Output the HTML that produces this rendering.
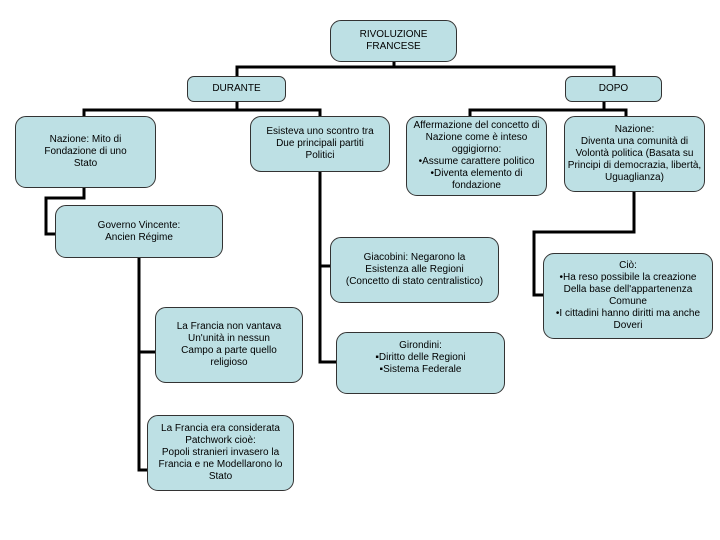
<!DOCTYPE html>
<html><head><meta charset="utf-8"><style>
body{margin:0;width:720px;height:540px;background:#fff;position:relative;overflow:hidden;font-family:"Liberation Sans",Arial,sans-serif;}
.b{position:absolute;box-sizing:border-box;background:#bde0e4;border:1px solid #333;border-radius:11px;display:flex;align-items:center;justify-content:center;text-align:center;font-size:10px;line-height:12px;color:#000;}
svg{position:absolute;left:0;top:0}
</style></head><body>
<svg width="720" height="540"><g stroke="#000" stroke-width="3" fill="none">
<polyline points="394,62 394,67 237,67 237,78"/>
<polyline points="394,67 614,67 614,78"/>
<polyline points="237,101 237,110 84,110 84,118"/>
<polyline points="237,110 320,110 320,118"/>
<polyline points="604,101 604,110 470,110 470,118"/>
<polyline points="604,110 626,110 626,118"/>
<polyline points="84,188 84,198 46,198 46,234 57,234"/>
<polyline points="139,258 139,470 150,470"/>
<polyline points="139,352 157,352"/>
<polyline points="320,172 320,362 338,362"/>
<polyline points="320,266 332,266"/>
<polyline points="634,192 634,232 534,232 534,295 545,295"/>
</g></svg>
<div class="b" style="left:330px;top:20px;width:127px;height:42px">RIVOLUZIONE<br>FRANCESE</div>
<div class="b" style="left:187px;top:76px;width:99px;height:26px;border-radius:7px">DURANTE</div>
<div class="b" style="left:565px;top:76px;width:97px;height:26px;border-radius:7px">DOPO</div>
<div class="b" style="left:15px;top:116px;width:141px;height:72px">Nazione: Mito di<br>Fondazione di uno<br>Stato</div>
<div class="b" style="left:250px;top:116px;width:140px;height:56px">Esisteva uno scontro tra<br>Due principali partiti<br>Politici</div>
<div class="b" style="left:406px;top:116px;width:141px;height:80px">Affermazione del concetto di<br>Nazione come è inteso<br>oggigiorno:<br>•Assume carattere politico<br>•Diventa elemento di fondazione</div>
<div class="b" style="left:564px;top:116px;width:141px;height:76px">Nazione:<br>Diventa una comunità di<br>Volontà politica (Basata su<br>Principi di democrazia, libertà,<br>Uguaglianza)</div>
<div class="b" style="left:55px;top:205px;width:168px;height:53px">Governo Vincente:<br>Ancien Régime</div>
<div class="b" style="left:330px;top:237px;width:169px;height:66px">Giacobini: Negarono la<br>Esistenza alle Regioni<br>(Concetto di stato centralistico)</div>
<div class="b" style="left:543px;top:253px;width:170px;height:86px">Ciò:<br>•Ha reso possibile la creazione<br>Della base dell'appartenenza<br>Comune<br>•I cittadini hanno diritti ma anche<br>Doveri</div>
<div class="b" style="left:155px;top:307px;width:148px;height:76px">La Francia non vantava<br>Un'unità in nessun<br>Campo a parte quello<br>religioso</div>
<div class="b" style="left:336px;top:332px;width:169px;height:62px;align-items:flex-start;padding-top:7px">Girondini:<br>▪Diritto delle Regioni<br>▪Sistema Federale</div>
<div class="b" style="left:147px;top:415px;width:147px;height:76px">La Francia era considerata<br>Patchwork cioè:<br>Popoli stranieri invasero la<br>Francia e ne Modellarono lo<br>Stato</div>
</body></html>
